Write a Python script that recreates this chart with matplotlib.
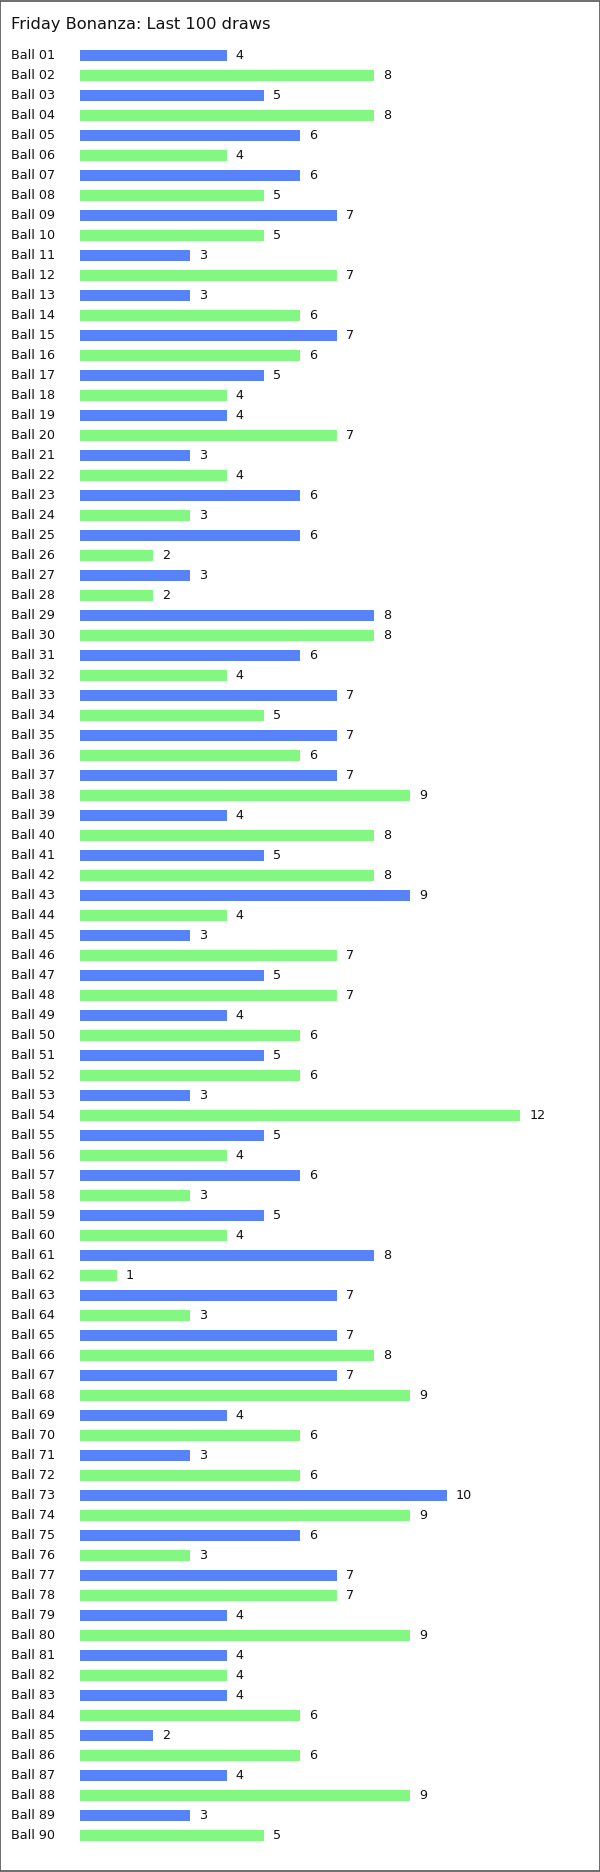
import matplotlib
matplotlib.use("Agg")
import matplotlib.pyplot as plt
from matplotlib.patches import Rectangle
from matplotlib.transforms import blended_transform_factory

title = "Friday Bonanza: Last 100 draws"
balls = [f"Ball {i:02d}" for i in range(1, 91)]
counts = [4, 8, 5, 8, 6, 4, 6, 5, 7, 5,
          3, 7, 3, 6, 7, 6, 5, 4, 4, 7,
          3, 4, 6, 3, 6, 2, 3, 2, 8, 8,
          6, 4, 7, 5, 7, 6, 7, 9, 4, 8,
          5, 8, 9, 4, 3, 7, 5, 7, 4, 6,
          5, 6, 3, 12, 5, 4, 6, 3, 5, 4,
          8, 1, 7, 3, 7, 8, 7, 9, 4, 6,
          3, 6, 10, 9, 6, 3, 7, 7, 4, 9,
          4, 4, 4, 6, 2, 6, 4, 9, 3, 5]
colors_cycle = ["#5882F8", "#82F882"]

W, H = 600, 1872
fig = plt.figure(figsize=(W / 100, H / 100), dpi=100)
fig.patch.set_facecolor("white")

left_px, right_px = 80, 590
top_px, bot_px = 45.5, 1845.5
unit_px = 36.7
ax = fig.add_axes([left_px / W, 1 - bot_px / H, (right_px - left_px) / W, (bot_px - top_px) / H])
ax.set_xlim(0, (right_px - left_px) / unit_px)
ax.set_ylim(len(balls) - 0.5, -0.5)
ax.axis("off")

ypos = list(range(len(balls)))
bar_colors = [colors_cycle[i % 2] for i in ypos]
ax.barh(ypos, counts, height=0.55, color=bar_colors, linewidth=0)

tr = blended_transform_factory(fig.transFigure, ax.transData)
for i, (lab, v) in enumerate(zip(balls, counts)):
    ax.text(10.5 / W, i, lab, transform=tr, ha="left", va="center",
            fontsize=9.2, family="DejaVu Sans", color="#111111")
    ax.annotate(str(v), xy=(v, i), xytext=(6.5, 0), textcoords="offset points",
                ha="left", va="center", fontsize=9.2, family="DejaVu Sans", color="#111111")

fig.text(10.5 / W, 1 - 25 / H, title, ha="left", va="center", fontsize=11.7,
         family="DejaVu Sans", color="#111111")

fig.patches.append(Rectangle((0.0008, 0.0003), 0.9984, 0.9994, transform=fig.transFigure,
                             fill=False, edgecolor="#555555", linewidth=1.2))

fig.savefig("out.png", dpi=100, facecolor="white")
